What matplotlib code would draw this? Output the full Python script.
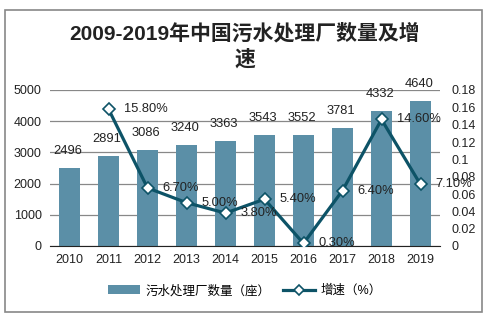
import matplotlib.pyplot as plt
from matplotlib.patches import Rectangle

plt.rcParams['font.family'] = ['Liberation Sans', 'Noto Sans CJK SC']

# Données
years = ['2010', '2011', '2012', '2013', '2014', '2015', '2016', '2017', '2018', '2019']
plants = [2496, 2891, 3086, 3240, 3363, 3543, 3552, 3781, 4332, 4640]
growth_years = ['2011', '2012', '2013', '2014', '2015', '2016', '2017', '2018', '2019']
growth = [0.158, 0.067, 0.050, 0.038, 0.054, 0.003, 0.064, 0.146, 0.071]
growth_labels = ['15.80%', '6.70%', '5.00%', '3.80%', '5.40%', '0.30%', '6.40%', '14.60%', '7.10%']

bar_color = '#5b8fa7'
line_color = '#0d5367'

fig = plt.figure(figsize=(4.89, 3.22), dpi=100)
fig.patches.append(Rectangle((5 / 489, 10 / 322), 477 / 489, 302 / 322, transform=fig.transFigure,
                             fill=False, edgecolor='#888888', linewidth=1.2))

fig.text(0.5, 1 - 33 / 322, '2009-2019年中国污水处理厂数量及增', ha='center', va='center',
         fontsize=15, fontweight='bold', color='#222222')
fig.text(0.5, 1 - 59 / 322, '速', ha='center', va='center', fontsize=15, fontweight='bold', color='#222222')

ax = fig.add_axes([50 / 489, 76 / 322, 390 / 489, 156 / 322])
x = list(range(len(years)))
bars = ax.bar(x, plants, width=0.52, color=bar_color, zorder=2, label='污水处理厂数量（座）')
for xi, v in zip(x, plants):
    ax.annotate(str(v), (xi, v), xytext=(-1, 8), textcoords='offset points',
                ha='center', va='bottom', fontsize=9.3, color='#222222')

ax.set_ylim(0, 5000)
ax.set_yticks(range(0, 5001, 1000))
ax.set_xlim(-0.5, len(years) - 0.5)
ax.set_xticks(x)
ax.set_xticklabels(years)
ax.grid(axis='y', color='#888888', linewidth=0.9, zorder=0)
for s in ['top', 'right', 'left']:
    ax.spines[s].set_visible(False)
ax.spines['bottom'].set_color('#222222')
ax.tick_params(axis='both', length=0, labelsize=9, colors='#222222', pad=6)

ax2 = ax.twinx()
gx = [years.index(y) for y in growth_years]
ax2.plot(gx, growth, color=line_color, linewidth=2.3, marker='D', markersize=6.5,
         markerfacecolor='white', markeredgecolor=line_color, markeredgewidth=1.2,
         zorder=3, label='增速（%）')
for xi, v, lab in zip(gx, growth, growth_labels):
    ax2.annotate(lab, (xi, v), xytext=(11, 0), textcoords='offset points',
                 ha='left', va='center', fontsize=9.3, color='#222222')
ax2.set_ylim(0, 0.18)
ax2.set_yticks([i / 100 for i in range(0, 19, 2)])
ax2.set_yticklabels(['0'] + ['%g' % (i / 100) for i in range(2, 19, 2)])
for s in ax2.spines.values():
    s.set_visible(False)
ax2.tick_params(axis='y', length=0, labelsize=9, colors='#222222', pad=8)

h1, l1 = ax.get_legend_handles_labels()
h2, l2 = ax2.get_legend_handles_labels()
fig.legend(h1 + h2, l1 + l2, loc='center', bbox_to_anchor=(0.5, 31 / 322), ncol=2,
           frameon=False, fontsize=9, handlelength=2.6, handleheight=0.7, columnspacing=1.0,
           handletextpad=0.4, markerscale=0.8)

fig.savefig('out.png', dpi=100)
